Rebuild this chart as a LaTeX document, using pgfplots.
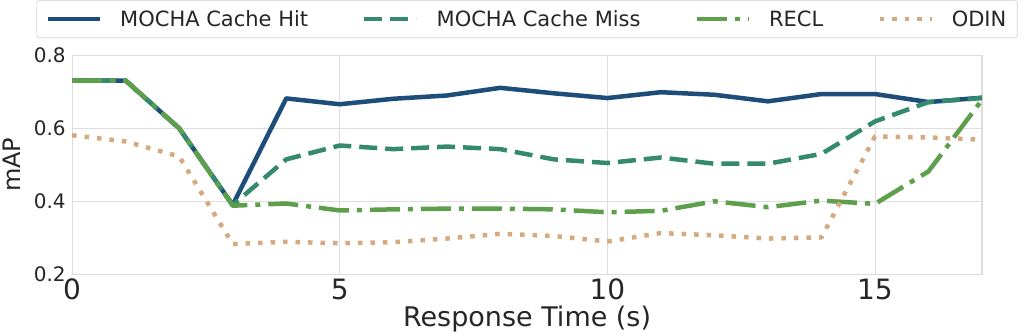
\documentclass[border=0pt]{standalone}
\usepackage{pgfplots}
\pgfplotsset{compat=1.18}
\usepackage{fontspec}
\setmainfont{DejaVu Sans}
\definecolor{hitc}{HTML}{1D4E7A}
\definecolor{missc}{HTML}{348A6E}
\definecolor{reclc}{HTML}{5E9F4C}
\definecolor{odinc}{HTML}{D4AB80}
\definecolor{gridc}{HTML}{DDDDDD}
\definecolor{txtc}{HTML}{262626}
\begin{document}
\begin{tikzpicture}
\begin{axis}[
    width=910pt, height=219pt, scale only axis,
    xmin=0, xmax=17, ymin=0.2, ymax=0.8,
    xtick={0,5,10,15}, ytick={0.2,0.4,0.6,0.8},
    /pgf/number format/assume math mode=true,
    yticklabel style={/pgf/number format/fixed, /pgf/number format/fixed zerofill,
        /pgf/number format/precision=1, font=\fontsize{20}{20}\selectfont, text=txtc, xshift=-3pt},
    xticklabel style={font=\fontsize{28}{28}\selectfont, text=txtc, yshift=-1pt},
    major tick length=0pt,
    grid=major, grid style={gridc, line width=0.9pt},
    axis line style={gridc, line width=1.2pt},
    xlabel={Response Time (s)}, ylabel={mAP},
    xlabel style={font=\fontsize{27}{27}\selectfont, text=txtc, at={(axis description cs:0.5,-0.205)}, anchor=center},
    ylabel style={font=\fontsize{24}{24}\selectfont, text=txtc, at={(axis description cs:-0.066,0.5)}, anchor=center},
    legend columns=4,
    legend style={at={(0.5,1)}, anchor=south, yshift=17pt, draw=gridc, line width=0.9pt,
        rounded corners=3pt, font=\fontsize{21}{26}\selectfont, text=txtc,
        inner xsep=9pt, inner ysep=8pt,
        /tikz/every odd column/.append style={column sep=16pt},
        /tikz/every even column/.append style={column sep=52pt}},
    legend image code/.code={\draw[#1] (0pt,0pt) -- (52pt,0pt);},
    every axis plot/.append style={line width=4.5pt, line join=round, no marks},
]
\addplot[hitc] coordinates {
(0,0.731) (1,0.731) (2,0.600) (3,0.390) (4,0.682) (5,0.666) (6,0.681) (7,0.690)
(8,0.711) (9,0.696) (10,0.683) (11,0.699) (12,0.692) (13,0.674) (14,0.694)
(15,0.694) (16,0.672) (17,0.684)};
\addplot[missc, dash pattern=on 18pt off 8pt] coordinates {
(0,0.731) (1,0.731) (2,0.600) (3,0.390) (4,0.515) (5,0.553) (6,0.543) (7,0.550)
(8,0.543) (9,0.515) (10,0.505) (11,0.520) (12,0.503) (13,0.503) (14,0.530)
(15,0.619) (16,0.672) (17,0.683)};
\addplot[reclc, dash pattern=on 30pt off 8pt on 5pt off 8pt] coordinates {
(0,0.731) (1,0.731) (2,0.600) (3,0.388) (4,0.394) (5,0.375) (6,0.378) (7,0.380)
(8,0.380) (9,0.378) (10,0.370) (11,0.374) (12,0.400) (13,0.384) (14,0.402)
(15,0.393) (16,0.482) (17,0.678)};
\addplot[odinc, dash pattern=on 4.5pt off 8pt] coordinates {
(0,0.581) (1,0.564) (2,0.523) (3,0.283) (4,0.289) (5,0.285) (6,0.288) (7,0.298)
(8,0.311) (9,0.305) (10,0.290) (11,0.313) (12,0.307) (13,0.298) (14,0.301)
(15,0.578) (16,0.575) (17,0.569)};
\legend{MOCHA Cache Hit, MOCHA Cache Miss, RECL, ODIN}
\end{axis}
\path (current axis.south east) ++(43pt,0pt);
\end{tikzpicture}
\end{document}
